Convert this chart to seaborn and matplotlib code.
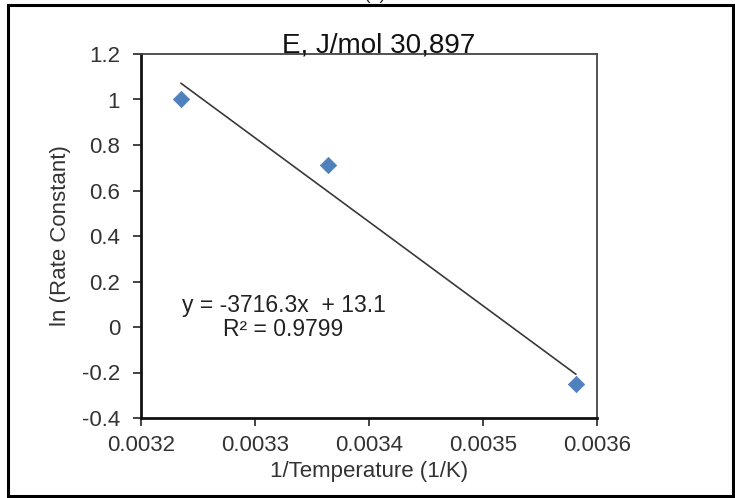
import numpy as np
import pandas as pd
import matplotlib
matplotlib.use("Agg")
import matplotlib.pyplot as plt
import seaborn as sns
from matplotlib.patches import Rectangle

inv_temp = [0.003235, 0.0033638, 0.0035815]
ln_k = [1.00, 0.71, -0.25]
x_ticks = [0.0032, 0.0033, 0.0034, 0.0035, 0.0036]
x_tick_labels = ["0.0032", "0.0033", "0.0034", "0.0035", "0.0036"]
y_ticks = [-0.4, -0.2, 0, 0.2, 0.4, 0.6, 0.8, 1, 1.2]
y_tick_labels = ["-0.4", "-0.2", "0", "0.2", "0.4", "0.6", "0.8", "1", "1.2"]
title = "E, J/mol 30,897"
eq_text = "y = -3716.3x  + 13.1\nR² = 0.9799"

df = pd.DataFrame({"x": inv_temp, "y": ln_k})

sns.set_theme(style="white")
plt.rcParams['font.family'] = ['Liberation Sans', 'DejaVu Sans']

fig = plt.figure(figsize=(7.35, 4.98), dpi=100)
ax = fig.add_axes([141/735, 1-418/498, (597-141)/735, (418-54)/498])

sns.regplot(data=df, x="x", y="y", ci=None, ax=ax, scatter=False,
            line_kws=dict(color="#3a3a3a", lw=1.2))
sns.scatterplot(data=df, x="x", y="y", ax=ax, marker="D", s=70,
                color="#4F81BD", edgecolor="#4F81BD", linewidth=0.5, zorder=3)

ax.set_xlim(0.0032, 0.0036)
ax.set_ylim(-0.4, 1.2)
ax.set_xticks(x_ticks)
ax.set_xticklabels(x_tick_labels)
ax.set_yticks(y_ticks)
ax.set_yticklabels(y_tick_labels)
ax.tick_params(axis='both', labelsize=16, labelcolor="#333333", colors="#222222",
               direction='out', length=6, width=1.2, left=True, bottom=True)
ax.tick_params(axis='x', pad=6)
ax.tick_params(axis='y', pad=9)
ax.set_xlabel("1/Temperature (1/K)", fontsize=16, color="#333333", labelpad=4)
ax.set_ylabel("ln (Rate Constant)", fontsize=16, color="#333333", labelpad=8)

for s in ["left", "bottom"]:
    ax.spines[s].set_color("#111111")
    ax.spines[s].set_linewidth(2.0)
for s in ["top", "right"]:
    ax.spines[s].set_color("#444444")
    ax.spines[s].set_linewidth(1.3)

ax.text(0.003325, 0.04, eq_text, ha="center", va="center", fontsize=16.5,
        color="#222222", linespacing=1.05, multialignment="center")

fig.text(379/735, 1-53/498, title, ha="center", va="baseline", fontsize=20,
         color="#111111")
fig.text(375/735, 1-3/498, "(c)", ha="center", va="bottom", fontsize=14,
         color="#333333")

fig.patches.append(Rectangle((8/735, 2/498), 725/735, 491/498,
                             transform=fig.transFigure, fill=False,
                             edgecolor="black", lw=2.2))

fig.savefig("out.png", dpi=100)
